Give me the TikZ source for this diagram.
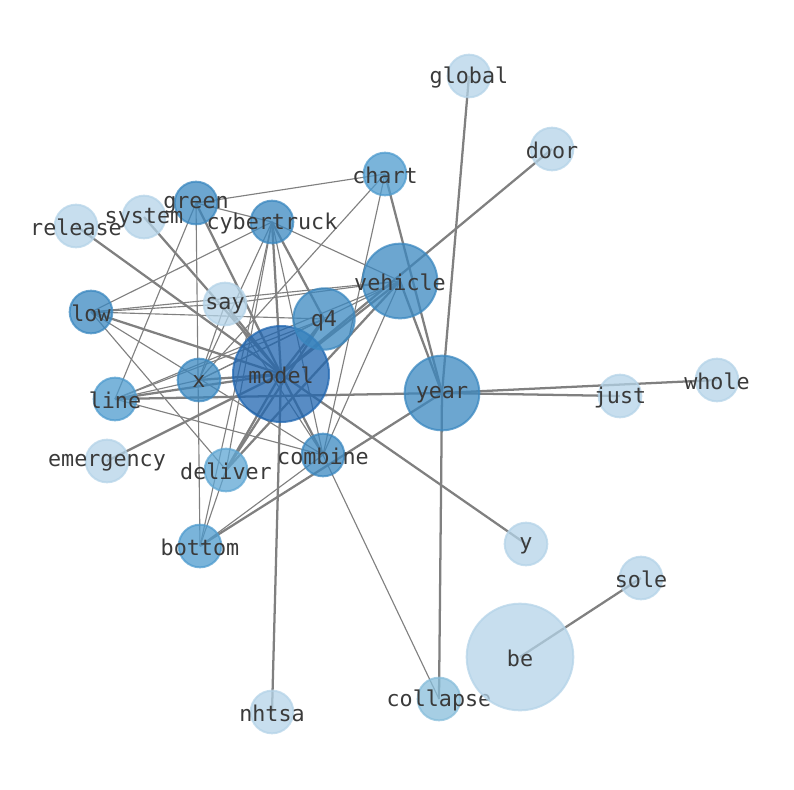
\documentclass[tikz,border=0pt]{standalone}
\usepackage{fontspec}
\newfontfamily\wordfont{DejaVu Sans Mono}
\usetikzlibrary{backgrounds}

\definecolor{wordtext}{RGB}{58,58,58}
\definecolor{edgegray}{RGB}{128,128,128}
\definecolor{toneA}{RGB}{32,102,176}
\definecolor{toneB}{RGB}{59,136,192}
\definecolor{toneC}{RGB}{78,155,206}
\definecolor{toneD}{RGB}{94,166,211}
\definecolor{toneE}{RGB}{136,190,219}
\definecolor{toneF}{RGB}{180,211,232}

\tikzset{
  word/.style={circle, inner sep=0pt, line width=1.5pt, minimum size=32pt,
    fill opacity=0.75, draw opacity=0.75},
  wordlabel/.style={text=wordtext, inner sep=0pt, yshift=-1.2pt,
    font=\wordfont\fontsize{16.3}{18}\selectfont},
  dark/.style={draw=toneA, fill=toneA},
  mid/.style={draw=toneB, fill=toneB},
  soft/.style={draw=toneC, fill=toneC},
  pale/.style={draw=toneD, fill=toneD},
  faint/.style={draw=toneE, fill=toneE},
  ghost/.style={draw=toneF, fill=toneF},
  tie/.style={draw=edgegray, line width=0.85pt},
  heavytie/.style={draw=edgegray, line width=1.7pt}
}

\begin{document}
\begin{tikzpicture}[x=0.75pt, y=-0.75pt]
    \useasboundingbox (0,0) rectangle (794,790);

    \node [word, dark, minimum size=72pt, label={[wordlabel]center:model}] (model) at (281,374) {};
    \node [word, mid, minimum size=56pt, label={[wordlabel]center:year}] (year) at (442,393) {};
    \node [word, mid, minimum size=56pt, label={[wordlabel]center:vehicle}] (vehicle) at (400,281) {};
    \node [word, mid, minimum size=46pt, label={[wordlabel]center:q4}] (q4) at (324,319) {};
    \node [word, mid, label={[wordlabel]center:green}] (green) at (196,203) {};
    \node [word, mid, label={[wordlabel]center:cybertruck}] (cybertruck) at (272,222) {};
    \node [word, mid, label={[wordlabel]center:x}] (x) at (199,380) {};
    \node [word, mid, label={[wordlabel]center:combine}] (combine) at (323,455) {};
    \node [word, mid, label={[wordlabel]center:low}] (low) at (91,312) {};
    \node [word, soft, label={[wordlabel]center:line}] (line) at (115,399) {};
    \node [word, soft, label={[wordlabel]center:chart}] (chart) at (385,174) {};
    \node [word, soft, label={[wordlabel]center:bottom}] (bottom) at (200,546) {};
    \node [word, pale, label={[wordlabel]center:deliver}] (deliver) at (226,470) {};
    \node [word, faint, label={[wordlabel]center:collapse}] (collapse) at (439,699) {};
    \node [word, ghost, label={[wordlabel]center:global}] (global) at (469,76) {};
    \node [word, ghost, label={[wordlabel]center:door}] (door) at (552,149) {};
    \node [word, ghost, label={[wordlabel]center:system}] (system) at (144,217) {};
    \node [word, ghost, label={[wordlabel]center:release}] (release) at (76,226) {};
    \node [word, ghost, label={[wordlabel]center:say}] (say) at (225,304) {};
    \node [word, ghost, label={[wordlabel]center:just}] (just) at (620,396) {};
    \node [word, ghost, label={[wordlabel]center:whole}] (whole) at (717,380) {};
    \node [word, ghost, label={[wordlabel]center:emergency}] (emergency) at (107,461) {};
    \node [word, ghost, label={[wordlabel]center:y}] (y) at (526,544) {};
    \node [word, ghost, label={[wordlabel]center:sole}] (sole) at (641,578) {};
    \node [word, ghost, minimum size=80pt, label={[wordlabel]center:be}] (be) at (520,657) {};
    \node [word, ghost, label={[wordlabel]center:nhtsa}] (nhtsa) at (272,712) {};

    \begin{pgfonlayer}{background}
    \path [every edge/.style=heavytie]
        (model.center) edge (release.center)
        (model.center) edge (system.center)
        (model.center) edge (green.center)
        (model.center) edge (cybertruck.center)
        (model.center) edge (say.center)
        (model.center) edge (low.center)
        (model.center) edge (x.center)
        (model.center) edge (line.center)
        (model.center) edge (emergency.center)
        (model.center) edge (deliver.center)
        (model.center) edge (combine.center)
        (model.center) edge (q4.center)
        (model.center) edge (vehicle.center)
        (model.center) edge (nhtsa.center)
        (model.center) edge (y.center)
        (model.center) edge (door.center)
        (year.center) edge (global.center)
        (year.center) edge (chart.center)
        (year.center) edge (vehicle.center)
        (year.center) edge (line.center)
        (year.center) edge (just.center)
        (year.center) edge (whole.center)
        (year.center) edge (collapse.center)
        (year.center) edge (bottom.center)
        (be.center) edge (sole.center)
        (cybertruck.center) edge (q4.center)
        (deliver.center) edge (vehicle.center)
        (deliver.center) edge (q4.center);

    \path [every edge/.style=tie]
        (chart.center) edge (green.center)
        (chart.center) edge (x.center)
        (chart.center) edge (combine.center)
        (green.center) edge (line.center)
        (green.center) edge (bottom.center)
        (green.center) edge (cybertruck.center)
        (cybertruck.center) edge (low.center)
        (cybertruck.center) edge (x.center)
        (cybertruck.center) edge (deliver.center)
        (cybertruck.center) edge (combine.center)
        (cybertruck.center) edge (vehicle.center)
        (cybertruck.center) edge (bottom.center)
        (low.center) edge (say.center)
        (low.center) edge (q4.center)
        (low.center) edge (vehicle.center)
        (low.center) edge (combine.center)
        (low.center) edge (deliver.center)
        (line.center) edge (q4.center)
        (line.center) edge (vehicle.center)
        (line.center) edge (combine.center)
        (line.center) edge (x.center)
        (x.center) edge (say.center)
        (x.center) edge (vehicle.center)
        (x.center) edge (q4.center)
        (say.center) edge (vehicle.center)
        (say.center) edge (combine.center)
        (combine.center) edge (vehicle.center)
        (combine.center) edge (bottom.center)
        (combine.center) edge (collapse.center)
        (deliver.center) edge (bottom.center);
    \end{pgfonlayer}
\end{tikzpicture}
\end{document}
